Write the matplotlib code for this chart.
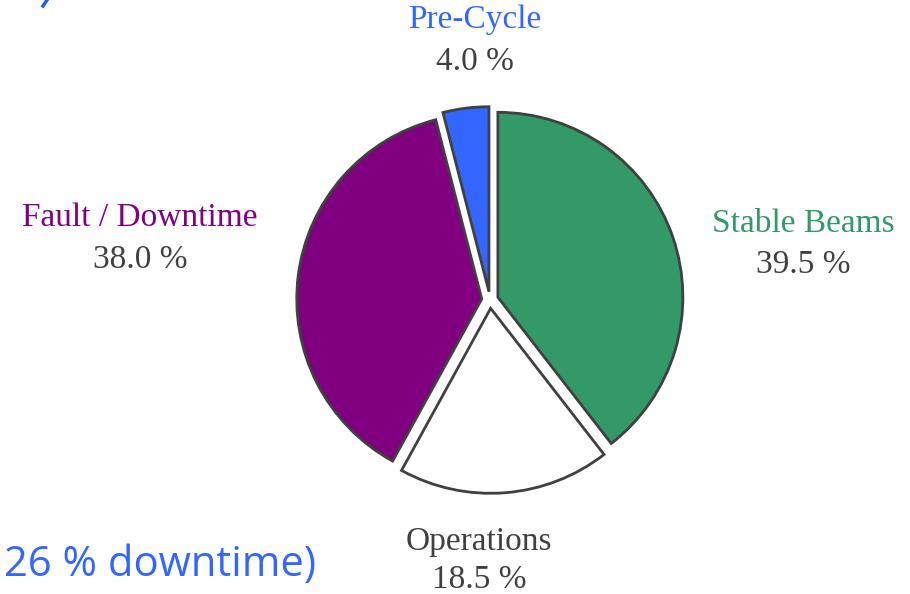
import matplotlib
matplotlib.use("Agg")
import matplotlib.pyplot as plt
from matplotlib.lines import Line2D

categories = ["Stable Beams", "Operations", "Fault / Downtime", "Pre-Cycle"]
values = [39.5, 18.5, 38.0, 4.0]
pct_labels = ["39.5 %", "18.5 %", "38.0 %", "4.0 %"]
colors = ["#339966", "#ffffff", "#800080", "#3366ff"]
label_colors = ["#339966", "#404040", "#800080", "#3366ff"]
footer = "26 % downtime)"

W, H = 910, 594
fig = plt.figure(figsize=(W / 100, H / 100), dpi=100)
ax = fig.add_axes([0, 0, 1, 1])
cx, cy, R = 490, 300, 185
ax.pie(values, startangle=90, counterclock=False, colors=colors,
       explode=[0.045] * 4, radius=1,
       wedgeprops=dict(edgecolor="#404040", linewidth=2.0, joinstyle="miter"))
ax.set_xlim(-cx / R, (W - cx) / R)
ax.set_ylim(-(H - cy) / R, cy / R)
ax.set_aspect("auto")
ax.axis("off")

serif = ["Liberation Serif", "DejaVu Serif"]
pos = {
    "Stable Beams": (803, 224, 265),
    "Operations": (479, 542, 580),
    "Fault / Downtime": (140, 218, 260),
    "Pre-Cycle": (475, 20, 62),
}
for name, pct, lc in zip(categories, pct_labels, label_colors):
    x, y1, y2 = pos[name]
    fig.text(x / W, 1 - y1 / H, name, family=serif, fontsize=24, color=lc,
             ha="center", va="center")
    fig.text(x / W, 1 - y2 / H, pct, family=serif, fontsize=24, color="#404040",
             ha="center", va="center")

fig.text(4 / W, 1 - 565 / H, footer, family=["Open Sans", "DejaVu Sans"],
         fontsize=30, color="#3366ff", ha="left", va="center")

fig.add_artist(Line2D([47 / W, 43 / W], [1 - 0 / H, 1 - 6 / H], color="#1a5cff",
                      linewidth=2.5, transform=fig.transFigure))

fig.savefig("out.png", dpi=100, facecolor="white")
